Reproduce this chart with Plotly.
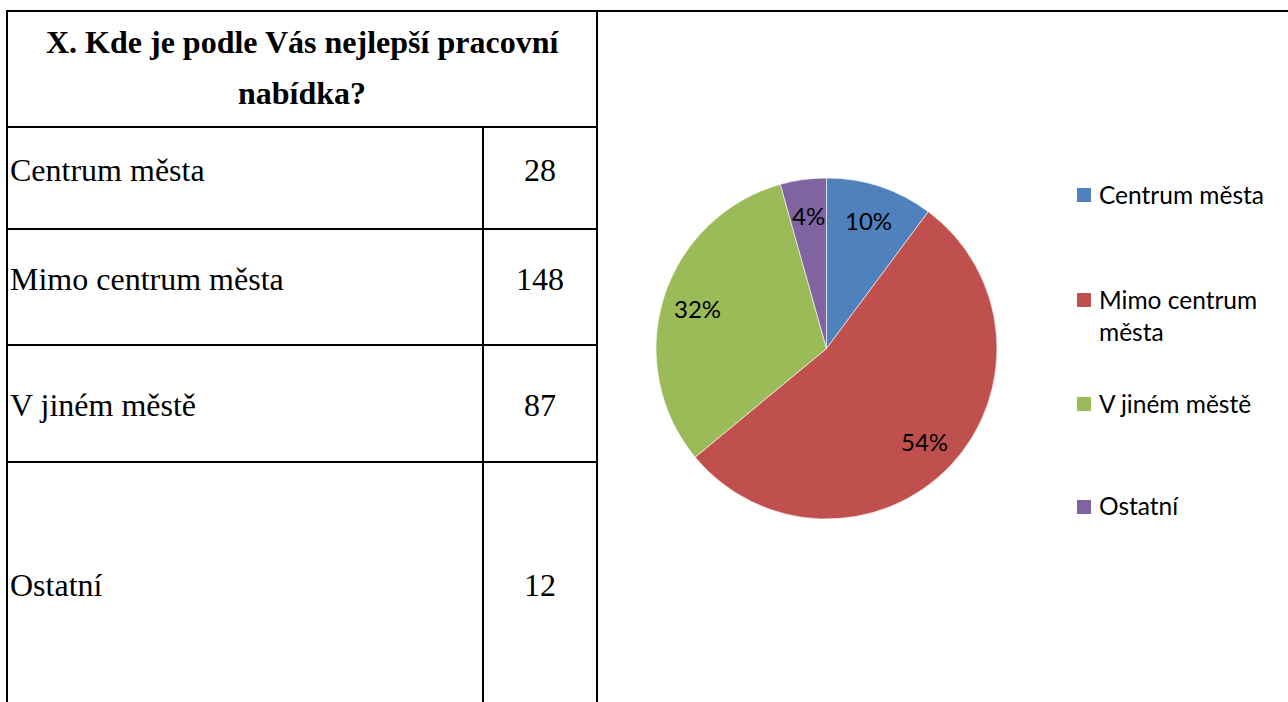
import math
import plotly.graph_objects as go

# Survey data
header_lines = ["X. Kde je podle Vás nejlepší pracovní", "nabídka?"]
categories = ["Centrum města", "Mimo centrum města", "V jiném městě", "Ostatní"]
counts = [28, 148, 87, 12]
legend_labels = ["Centrum města", "Mimo centrum<br>města", "V jiném městě", "Ostatní"]
colors = ["#4F81BD", "#C0504D", "#9BBB59", "#8064A2"]

W, H = 1288, 702


def px(x):
    return x / W


def py(y):
    return 1 - y / H


# Pie geometry (pixels)
cx, cy, R = 826.5, 348.5, 170.5

fig = go.Figure()
fig.add_trace(go.Pie(
    labels=categories,
    values=counts,
    sort=False,
    direction="clockwise",
    rotation=0,
    textinfo="none",
    hoverinfo="label+value+percent",
    marker=dict(colors=colors, line=dict(color="white", width=0.6)),
    domain=dict(x=[px(cx - R), px(cx + R)], y=[py(cy + R), py(cy - R)]),
    showlegend=False,
))

shapes = []
annotations = []
line_style = dict(color="black", width=2)


def hline(y, x0, x1):
    shapes.append(dict(type="line", xref="paper", yref="paper",
                       x0=px(x0), x1=px(x1), y0=py(y), y1=py(y), line=line_style))


def vline(x, y0, y1):
    shapes.append(dict(type="line", xref="paper", yref="paper",
                       x0=px(x), x1=px(x), y0=py(y0), y1=py(y1), line=line_style))


# Table grid
hline(11, 6, W)
vline(7, 10, H)
vline(597, 10, H)
vline(483, 127, H)
for y in [127, 229, 345, 462]:
    hline(y, 7, 597)

serif = "Liberation Serif, Times New Roman, serif"

# Header
for text, y in zip(header_lines, [42, 93]):
    annotations.append(dict(text=f"<b>{text}</b>", x=px(302), y=py(y), xref="paper", yref="paper",
                            showarrow=False, xanchor="center", yanchor="middle",
                            font=dict(family=serif, size=32, color="black")))

# Table rows
row_y = [170, 279, 405, 585]
for cat, n, y in zip(categories, counts, row_y):
    annotations.append(dict(text=cat, x=px(8), y=py(y), xref="paper", yref="paper",
                            showarrow=False, xanchor="left", yanchor="middle",
                            font=dict(family=serif, size=32, color="black")))
    annotations.append(dict(text=str(n), x=px(540), y=py(y), xref="paper", yref="paper",
                            showarrow=False, xanchor="center", yanchor="middle",
                            font=dict(family=serif, size=32, color="black")))

# Percentage labels inside the slices
sans = "Lato, Open Sans, sans-serif"
total = sum(counts)
cum = 0
for n in counts:
    frac = n / total
    mid = (cum + frac / 2) * 2 * math.pi
    cum += frac
    r = 0.79 * R
    lx = cx + r * math.sin(mid)
    ly = cy - r * math.cos(mid)
    annotations.append(dict(text=f"{round(frac * 100)}%", x=px(lx), y=py(ly), xref="paper", yref="paper",
                            showarrow=False, xanchor="center", yanchor="middle",
                            font=dict(family=sans, size=24, color="black")))

# Legend: (text centre y, marker centre y)
legend_text_y = [194, 315, 403, 506]
legend_mark_y = [195, 300, 404, 507]
for lab, col, ty, my in zip(legend_labels, colors, legend_text_y, legend_mark_y):
    shapes.append(dict(type="rect", xref="paper", yref="paper",
                       x0=px(1077), x1=px(1091), y0=py(my + 7), y1=py(my - 7),
                       fillcolor=col, line=dict(width=0)))
    annotations.append(dict(text=lab, x=px(1097), y=py(ty), xref="paper", yref="paper",
                            showarrow=False, xanchor="left", yanchor="middle", align="left",
                            font=dict(family=sans, size=24.5, color="black")))

fig.update_layout(
    width=W, height=H,
    margin=dict(l=0, r=0, t=0, b=0),
    paper_bgcolor="white",
    plot_bgcolor="white",
    shapes=shapes,
    annotations=annotations,
)

fig.write_html("out.html")
